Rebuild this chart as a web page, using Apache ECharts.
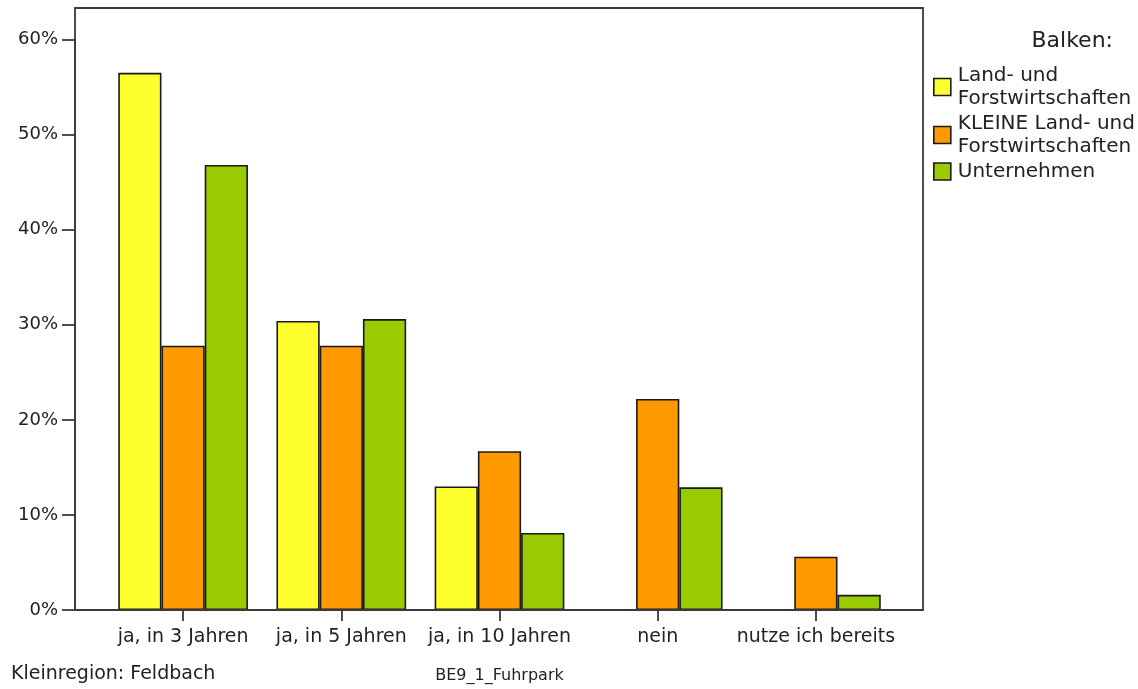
<!DOCTYPE html>
<html>
<head>
<meta charset="utf-8">
<script src="https://cdn.jsdelivr.net/npm/echarts@6/dist/echarts.min.js"></script>
<style>
  html, body { margin: 0; padding: 0; background: #fff; }
  #chart { width: 1138px; height: 689px; }
</style>
</head>
<body>
<div id="chart"></div>
<script>
var categories = ['ja, in 3 Jahren', 'ja, in 5 Jahren', 'ja, in 10 Jahren', 'nein', 'nutze ich bereits'];
var seriesNames = ['Land- und\nForstwirtschaften', 'KLEINE Land- und\nForstwirtschaften', 'Unternehmen'];
var landForst = [56.5, 30.4, 13.0, 0, 0];
var kleineLandForst = [27.8, 27.8, 16.7, 22.2, 5.6];
var unternehmen = [46.8, 30.6, 8.1, 12.9, 1.6];
var yTicks = [0, 10, 20, 30, 40, 50, 60];

var font = 'DejaVu Sans';
var textColor = '#222';

var chart = echarts.init(document.getElementById('chart'));

function barSeries(name, data, color) {
  return {
    name: name,
    type: 'bar',
    data: data,
    barGap: '0%',
    barCategoryGap: '18%',
    itemStyle: { color: color, borderColor: '#1a1a1a', borderWidth: 1.6 },
    emphasis: { disabled: true }
  };
}

var option = {
  animation: false,
  backgroundColor: '#fff',
  textStyle: { fontFamily: font, color: textColor },
  title: [
    {
      text: 'Balken:',
      right: 20, top: 25,
      textStyle: { fontFamily: font, fontSize: 22, fontWeight: 'normal', color: textColor }
    },
    {
      text: 'Kleinregion: Feldbach',
      left: 6, top: 660,
      textStyle: { fontFamily: font, fontSize: 19, fontWeight: 'normal', color: textColor }
    }
  ],
  legend: {
    orient: 'vertical',
    left: 933, top: 64,
    padding: 0,
    itemGap: 2,
    itemWidth: 17, itemHeight: 17,
    icon: 'rect',
    selectedMode: false,
    data: seriesNames,
    itemStyle: { borderColor: '#1a1a1a', borderWidth: 1.6 },
    textStyle: { fontFamily: font, fontSize: 20, lineHeight: 23, color: textColor, padding: [0, 0, 0, 2] }
  },
  graphic: [{
    type: 'rect',
    shape: { x: 75, y: 8, width: 848, height: 602 },
    style: { fill: 'none', stroke: '#3a3a3a', lineWidth: 1.8 },
    z: 10
  }],
  grid: { left: 104, right: 243, top: 39.5, bottom: 79 },
  xAxis: {
    type: 'category',
    data: categories,
    name: 'BE9_1_Fuhrpark',
    nameLocation: 'middle',
    nameGap: 58,
    nameTextStyle: { fontFamily: font, fontSize: 16, color: textColor },
    axisLine: { show: false },
    axisTick: { show: true, alignWithLabel: true, length: 11, lineStyle: { color: '#3a3a3a', width: 1.8 } },
    axisLabel: { fontFamily: font, fontSize: 19, color: textColor, margin: 18, interval: 0 }
  },
  yAxis: {
    type: 'value',
    min: 0, max: 60, interval: 10,
    offset: 29,
    axisLine: { show: true, lineStyle: { color: '#3a3a3a', width: 1.8 } },
    axisTick: { show: true, length: 13, lineStyle: { color: '#3a3a3a', width: 1.8 } },
    splitLine: { show: false },
    axisLabel: {
      fontFamily: font, fontSize: 18, color: textColor, margin: 17,
      formatter: function (v) { return yTicks.indexOf(v) >= 0 ? v + '%' : ''; }
    }
  },
  series: [
    barSeries(seriesNames[0], landForst, '#ffff2e'),
    barSeries(seriesNames[1], kleineLandForst, '#ff9900'),
    barSeries(seriesNames[2], unternehmen, '#99cc00')
  ]
};

chart.setOption(option);
</script>
</body>
</html>
